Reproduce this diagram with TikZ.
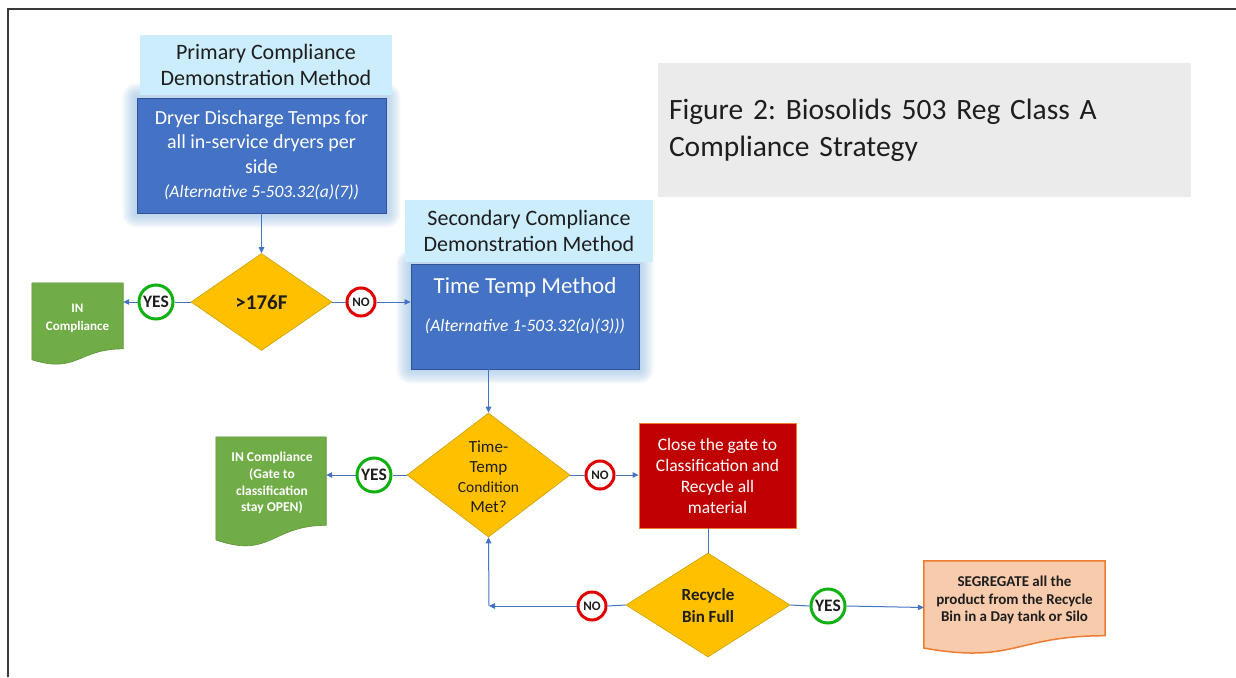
\documentclass[tikz,border=0pt]{standalone}
\usepackage{fontspec}
\setmainfont{Carlito}
\newfontfamily\titlefont{Carlito}[WordSpace=0.4]
\frenchspacing
\usetikzlibrary{shapes.geometric,arrows.meta,calc,backgrounds}
\definecolor{bluec}{HTML}{4472C4}
\definecolor{blueb}{HTML}{2F5597}
\definecolor{glowc}{HTML}{9DC3E6}
\definecolor{labelc}{HTML}{CCEDFC}
\definecolor{diamc}{HTML}{FFC000}
\definecolor{diamb}{HTML}{C9A000}
\definecolor{greenc}{HTML}{70AD47}
\definecolor{greenb}{HTML}{5B9237}
\definecolor{redc}{HTML}{C00000}
\definecolor{orangeb}{HTML}{ED7D31}
\definecolor{orangef}{HTML}{F8CBAD}
\definecolor{titlec}{HTML}{EBEBEB}
\definecolor{connc}{HTML}{4472C4}
\definecolor{yesc}{HTML}{10B010}
\definecolor{noc}{HTML}{E00000}
\definecolor{framec}{HTML}{3A3A3A}
\definecolor{txtc}{HTML}{1E1E1E}

\newcommand\glowrect[1]{%
  \foreach \g in {14,12,10,8,6,4,2}{%
    \fill[glowc,opacity=0.13,rounded corners=\g pt] ($(#1.north west)+(-\g,-\g)$) rectangle ($(#1.south east)+(\g,\g)$);}}

\newcommand\docshape[2]{%
  \path[#2] let \p1=(#1.north west), \p2=(#1.south east), \n1={\x2-\x1}, \n2={\y1-\y2} in
  (\p1) -- (\x2,\y1) -- (\x2,{\y1-0.802*\n2})
  .. controls ({\x1+0.5*\n1},{\y1-0.802*\n2}) and ({\x1+0.5*\n1},{\y1-1.1075*\n2}) ..
  (\x1,{\y1-0.934*\n2}) -- cycle;}

\begin{document}
\begin{tikzpicture}[x=1pt,y=-1pt,
  conn/.style={draw=connc, line width=1},
  arr/.style={conn, -{Triangle[length=6pt,width=5.5pt]}},
  yescirc/.style={circle, draw=yesc, line width=3, fill=white, inner sep=0, minimum size=34,
    font=\fontsize{17.5}{17.5}\selectfont\bfseries, text=txtc},
  nocirc/.style={circle, draw=noc, line width=3, fill=white, inner sep=0, minimum size=28,
    font=\fontsize{13}{13}\selectfont\bfseries, text=txtc},
  diam/.style={diamond, fill=diamc, draw=diamb, line width=0.6, inner sep=0},
  bluebox/.style={rectangle, fill=bluec, draw=blueb, line width=0.8, inner sep=0},
  labelbox/.style={rectangle, fill=labelc, inner sep=0, align=center,
    font=\fontsize{22}{25.5}\selectfont, text=txtc},
  docbox/.style={rectangle, inner sep=0}
]
\useasboundingbox (0,0) rectangle (1236,677);

% frame
\coordinate (fa) at (8,677);
\coordinate (fb) at (8,9);
\coordinate (fc) at (1236,9);
\draw[framec, line width=2] (fa) -- (fb) -- (fc);

% title
\node[fill=titlec, minimum width=533, minimum height=133, text width=511, inner sep=11,
  align=left, font=\titlefont\fontsize{29.5}{36.6}\selectfont, text=txtc] (title) at (924.5,130)
  {Figure 2: Biosolids 503 Reg Class A\\Compliance Strategy};

% primary
\node[labelbox, minimum width=252, minimum height=60] (prim) at (266,65)
  {Primary Compliance\\Demonstration Method};
\node[bluebox, minimum width=249, minimum height=115, font=\fontsize{20}{24.5}\selectfont,
  text=white, align=center] (dryer) at (261.5,155.5)
  {Dryer Discharge Temps for\\all in-service dryers per\\side\\{\fontsize{17.5}{21}\selectfont\itshape (Alternative 5-503.32(a)(7))}};

\node[diam, minimum width=141, minimum height=97] (d1) at (261.5,302) {};
\node[font=\fontsize{21}{24}\selectfont\bfseries, text=txtc] (d1t) at (d1) {>176F};
\node[yescirc] (yes1) at (156,302) {YES};
\node[nocirc] (no1) at (361,302) {NO};
\node[docbox, minimum width=91, minimum height=82] (doc1) at (77.5,324) {};
\node[font=\fontsize{13}{18}\selectfont\bfseries, text=white, align=center] (doc1t) at (77.5,318)
  {IN\\Compliance};

% secondary
\node[labelbox, minimum width=248, minimum height=62] (sec) at (529,231)
  {Secondary Compliance\\Demonstration Method};
\node[bluebox, minimum width=228, minimum height=105] (tt) at (525,316.5) {};
\node[font=\fontsize{23}{27}\selectfont, text=white] (tta) at (525,287) {Time Temp Method};
\node[font=\fontsize{17.5}{21}\selectfont\itshape, text=white] (ttb) at (525,326)
  {(Alternative 1-503.32(a)(3)))};

\node[diam, minimum width=163, minimum height=124] (d2) at (488.5,475) {};
\node[font=\fontsize{17}{20}\selectfont, text=txtc, align=center] (d2t) at (488.5,477)
  {Time-\\Temp\\{\fontsize{15.5}{20}\selectfont Condition}\\Met?};
\node[yescirc] (yes2) at (374,475) {YES};
\node[nocirc] (no2) at (600,475) {NO};
\node[docbox, minimum width=110, minimum height=110] (doc2) at (271,492) {};
\node[font=\fontsize{13.5}{16.7}\selectfont\bfseries, text=white, align=center] (doc2t) at (272,483)
  {IN Compliance\\(Gate to\\classification\\stay OPEN)};

\node[rectangle, fill=redc, draw=orangeb, line width=0.8, minimum width=157, minimum height=105,
  inner sep=0, font=\fontsize{17.5}{21}\selectfont, text=white, align=center] (red) at (717.5,475.5)
  {Close the gate to\\Classification and\\Recycle all\\material};

\node[diam, minimum width=164, minimum height=104] (d3) at (708,605) {};
\node[font=\fontsize{17}{22}\selectfont\bfseries, text=txtc, align=center] (d3t) at (708,606)
  {Recycle\\Bin Full};
\node[nocirc] (no3) at (592,606) {NO};
\node[yescirc] (yes3) at (828,606) {YES};
\node[docbox, minimum width=181, minimum height=93] (doc3) at (1014.5,607.5) {};
\node[font=\fontsize{15}{17.5}\selectfont\bfseries, text=txtc, align=center] (doc3t) at (1014.5,600)
  {SEGREGATE all the\\product from the Recycle\\Bin in a Day tank or Silo};
\coordinate (corner) at (489,606);

% connectors
\draw[arr] (dryer.south) -- (d1.north);
\draw[conn] (d1.west) -- (yes1.east);
\draw[arr] (yes1.west) -- (yes1.west -| doc1.east);
\draw[conn] (d1.east) -- (no1.west);
\draw[arr] (no1.east) -- (no1.east -| tt.west);
\draw[arr] (d2.north |- tt.south) -- (d2.north);
\draw[conn] (d2.west) -- (yes2.east);
\draw[arr] (yes2.west) -- (yes2.west -| doc2.east);
\draw[conn] (d2.east) -- (no2.west);
\draw[arr] (no2.east) -- (no2.east -| red.west);
\draw[conn] (d3.north |- red.south) -- (d3.north);
\draw[conn] (d3.west) -- (no3.east);
\draw[arr] (no3.west) -- (corner);
\draw[arr] (corner) -- (d2.south);
\draw[conn] (d3.east) -- (yes3.west);
\draw[arr] (yes3.east) -- (doc3.west);

\begin{pgfonlayer}{background}
  \fill[white] (0,0) rectangle (1236,677);
  \glowrect{dryer}
  \glowrect{tt}
  \docshape{doc1}{fill=greenc, draw=greenb, line width=0.6}
  \docshape{doc2}{fill=greenc, draw=greenb, line width=0.6}
  \docshape{doc3}{fill=orangef, draw=orangeb, line width=1.5}
\end{pgfonlayer}
\end{tikzpicture}
\end{document}
